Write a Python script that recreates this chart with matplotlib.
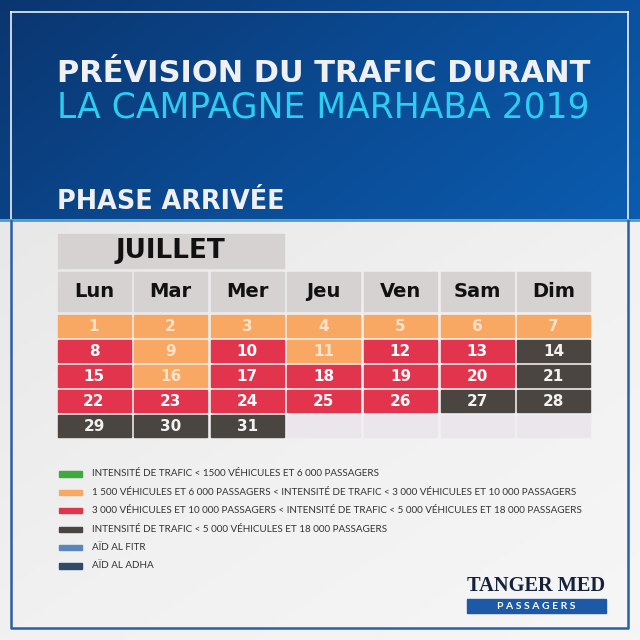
import numpy as np
import matplotlib.pyplot as plt
from matplotlib.patches import Rectangle
from matplotlib.colors import LinearSegmentedColormap

# ---- data ----
month = "JUILLET"
weekdays = ["Lun", "Mar", "Mer", "Jeu", "Ven", "Sam", "Dim"]
first_weekday = 0          # 1 juillet 2019 = lundi
days = list(range(1, 32))
# 1 = orange, 2 = rouge, 3 = gris foncé
levels = [1, 1, 1, 1, 1, 1, 1,
          2, 1, 2, 1, 2, 2, 3,
          2, 1, 2, 2, 2, 2, 3,
          2, 2, 2, 2, 2, 3, 3,
          3, 3, 3]

legend_colors = ["#3faa3f", "#f8a862", "#e3344e", "#4a4543", "#5a86bc", "#2f4a68"]
legend_labels = [
    "INTENSITÉ DE TRAFIC < 1500 VÉHICULES ET 6 000 PASSAGERS",
    "1 500 VÉHICULES ET 6 000 PASSAGERS < INTENSITÉ DE TRAFIC < 3 000 VÉHICULES ET 10 000 PASSAGERS",
    "3 000 VÉHICULES ET 10 000 PASSAGERS < INTENSITÉ DE TRAFIC < 5 000 VÉHICULES ET 18 000 PASSAGERS",
    "INTENSITÉ DE TRAFIC < 5 000 VÉHICULES ET 18 000 PASSAGERS",
    "AÏD AL FITR",
    "AÏD AL ADHA",
]

level_colors = {1: "#f8a862", 2: "#e3344e", 3: "#4a4540"}
level_text = {1: "#fde3cc", 2: "white", 3: "#f2f2f2"}

FONT = "Lato"
HEAD = "DejaVu Sans"

fig = plt.figure(figsize=(6.4, 6.4), dpi=100)
ax = fig.add_axes([0, 0, 1, 1])
ax.set_xlim(0, 640)
ax.set_ylim(640, 0)
ax.axis('off')
renderer = fig.canvas.get_renderer()


def fit(t, width):
    # scale font so the text spans `width` pixels
    w = t.get_window_extent(renderer).width
    t.set_fontsize(t.get_fontsize() * width / w)
    return t


# ---- backgrounds ----
gx, gy = np.meshgrid(np.linspace(0, 1, 200), np.linspace(0, 1, 80))
top_cmap = LinearSegmentedColormap.from_list("top", ["#0b3670", "#0a4a92", "#0b5cb0"])
ax.imshow(0.7 * gx + 0.3 * gy, cmap=top_cmap, extent=(0, 640, 219, 0),
          aspect='auto', zorder=0)
bot_cmap = LinearSegmentedColormap.from_list("bot", ["#e8e8e8", "#f1f1f1", "#f6f6f6"])
ax.imshow(0.5 * gx + 0.5 * gy, cmap=bot_cmap, extent=(0, 640, 640, 219),
          aspect='auto', zorder=0)

# frame
ax.plot([11, 628], [12, 12], color="white", lw=1.3, alpha=0.85, zorder=1)
ax.plot([11, 11], [12, 219], color="white", lw=1.3, alpha=0.85, zorder=1)
ax.plot([628, 628], [12, 219], color="white", lw=1.3, alpha=0.85, zorder=1)
ax.plot([0, 640], [220, 220], color="#4a9ad8", lw=2, zorder=1)
ax.plot([11, 11, 628, 628], [221, 628, 628, 221], color="#2a5ea6", lw=1.8, zorder=1)

# ---- titles ----
t1 = ax.text(57, 73, "PRÉVISION DU TRAFIC DURANT", color="#f0f0f2", fontsize=21,
             fontweight='bold', family=HEAD, va='center', ha='left')
t2 = ax.text(57, 107, "LA CAMPAGNE MARHABA 2019", color="#2ccdf0", fontsize=21,
             family=HEAD, va='center', ha='left')
t3 = ax.text(57, 202, "PHASE ARRIVÉE", color="#f0f0f2", fontsize=17,
             fontweight='bold', family=HEAD, va='center', ha='left')
fit(t1, 533)
fit(t2, 533)
fit(t3, 228)

# ---- calendar ----
x0, px, cw = 57.5, 76.6, 73
ax.add_patch(Rectangle((x0, 233.5), 2 * px + cw, 34.5, color="#d6d2d2", zorder=2))
tm = ax.text(x0 + (2 * px + cw) / 2, 251, month, fontsize=17, fontweight='bold',
             family=HEAD, ha='center', va='center', color="#111111", zorder=3)
fit(tm, 110)

for i, wd in enumerate(weekdays):
    ax.add_patch(Rectangle((x0 + i * px, 272), cw, 39, color="#d6d2d2", zorder=2))
    ax.text(x0 + i * px + cw / 2, 291.5, wd, fontsize=14, fontweight='bold',
            family=HEAD, ha='center', va='center', color="#111111", zorder=3)

ry0, py, ch = 314.5, 25, 22.5
n_cells = 35
for k in range(n_cells):
    col, row = k % 7, k // 7
    idx = k - first_weekday
    cx, cy = x0 + col * px, ry0 + row * py
    if 0 <= idx < len(days):
        lv = levels[idx]
        ax.add_patch(Rectangle((cx, cy), cw, ch, color=level_colors[lv], zorder=2))
        ax.text(cx + cw / 2, cy + ch / 2 + 0.5, str(days[idx]), fontsize=11,
                fontweight='bold', family=HEAD, ha='center', va='center',
                color=level_text[lv], zorder=3)
    else:
        ax.add_patch(Rectangle((cx, cy), cw, ch, color="#ebe6eb", zorder=2))

# ---- legend ----
leg_texts = []
for i, (c, lab) in enumerate(zip(legend_colors, legend_labels)):
    yc = 474 + i * 18.4
    ax.add_patch(Rectangle((59, yc - 2.6), 23, 5.2, color=c, zorder=2))
    leg_texts.append(ax.text(92, yc, lab, fontsize=6, family=FONT, ha='left',
                             va='center', color="#333333", zorder=3))
scale = 494 / leg_texts[2].get_window_extent(renderer).width
for t in leg_texts:
    t.set_fontsize(6 * scale)

# ---- logo ----
tl = ax.text(536.5, 586, "TANGER MED", fontsize=15, fontweight='bold',
             family="Liberation Serif", ha='center', va='center', color="#14233a", zorder=3)
fit(tl, 139)
ax.add_patch(Rectangle((467, 599), 139, 14, color="#1c5aa8", zorder=2))
ax.text(536.5, 606.5, "P A S S A G E R S", fontsize=7.5, fontweight='bold',
        family=FONT, ha='center', va='center', color="white", zorder=3)

fig.savefig("out.png", dpi=100)
